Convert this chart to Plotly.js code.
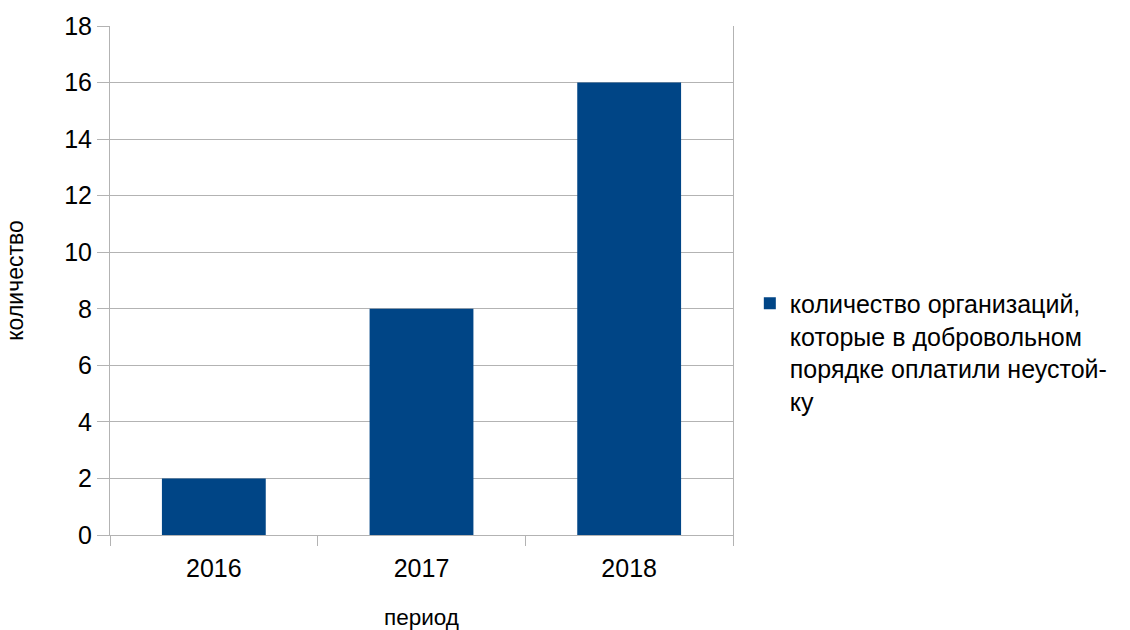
<!DOCTYPE html>
<html>
<head>
<meta charset="utf-8">
<script src="https://cdn.plot.ly/plotly-3.0.1.min.js"></script>
<style>html,body{margin:0;padding:0;background:#fff;}#chart{width:1130px;height:630px;}</style>
</head>
<body>
<div id="chart"></div>
<script>
var categories = ["2016", "2017", "2018"];
var values = [2, 8, 16];
var seriesName = "количество организаций,<br>которые в добровольном<br>порядке оплатили неустой-<br>ку";
var xTitle = "период";
var yTitle = "количество";

var grid = "#b3b3b3";
var font = "Liberation Sans, Arial, sans-serif";

var data = [{
  type: "bar",
  x: categories,
  y: values,
  name: seriesName,
  marker: {color: "#004586"},
  showlegend: true,
  hoverinfo: "x+y"
}];

var layout = {
  width: 1130,
  height: 630,
  margin: {l: 110, r: 397, t: 26, b: 95},
  paper_bgcolor: "#fff",
  plot_bgcolor: "#fff",
  font: {family: font, color: "#000", size: 25},
  bargap: 0.5,
  showlegend: true,
  legend: {
    x: 1.027, xanchor: "left",
    y: 0.5, yanchor: "top",
    valign: "top",
    font: {family: font, size: 25, color: "#000"},
    bgcolor: "rgba(0,0,0,0)",
    tracegroupgap: 0
  },
  xaxis: {
    type: "category",
    tickson: "boundaries",
    ticks: "outside",
    ticklen: 10,
    tickcolor: grid,
    tickwidth: 1,
    ticklabelstandoff: 11,
    showline: true,
    linecolor: grid,
    linewidth: 1,
    showgrid: false,
    tickfont: {family: font, size: 25, color: "#000"},
    title: {text: xTitle, font: {family: font, size: 22.5, color: "#000"}, standoff: 28}
  },
  yaxis: {
    range: [0, 18],
    dtick: 2,
    ticks: "outside",
    ticklen: 12,
    tickcolor: grid,
    tickwidth: 1,
    showline: true,
    mirror: true,
    linecolor: grid,
    linewidth: 1,
    showgrid: true,
    gridcolor: grid,
    gridwidth: 1,
    zeroline: false,
    tickfont: {family: font, size: 25, color: "#000"},
    title: {text: yTitle, font: {family: font, size: 23, color: "#000"}, standoff: 34}
  }
};

Plotly.newPlot("chart", data, layout, {displayModeBar: false, staticPlot: true});
</script>
</body>
</html>
